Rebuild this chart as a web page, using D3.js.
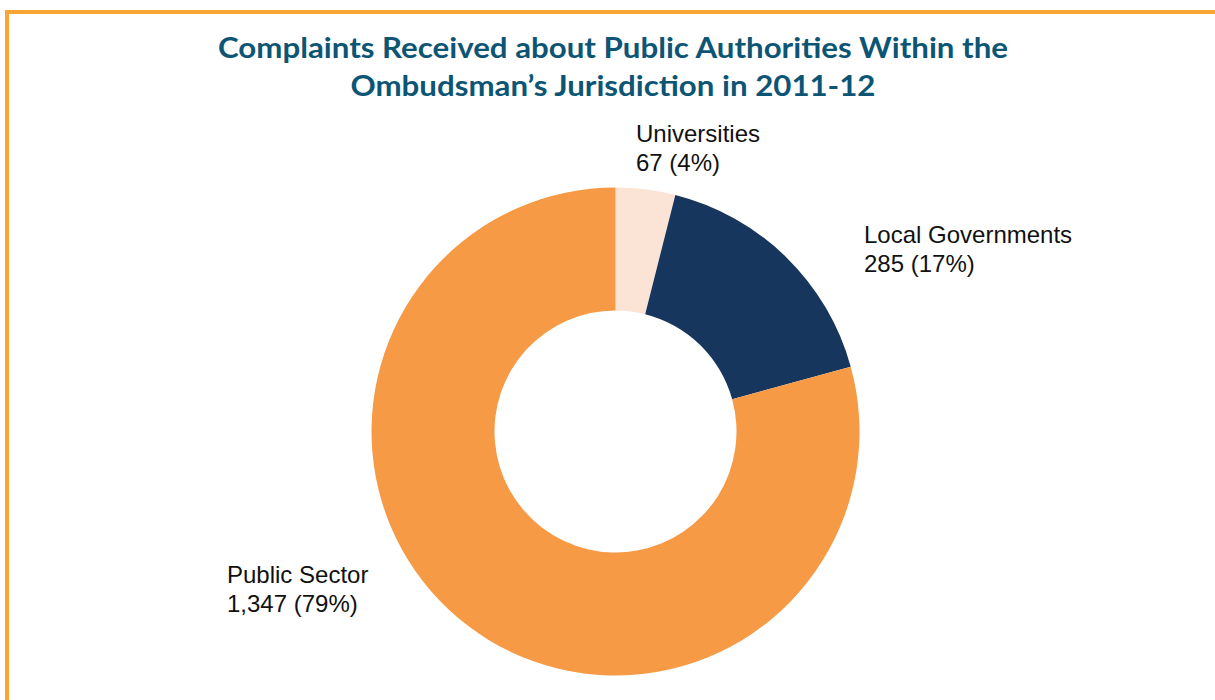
<!DOCTYPE html>
<html>
<head>
<meta charset="utf-8">
<script src="https://cdn.jsdelivr.net/npm/d3@7"></script>
<style>
  html, body { margin: 0; padding: 0; background: #ffffff; }
  svg { display: block; }
</style>
</head>
<body>
<svg id="chart" width="1215" height="700"></svg>
<script>
// ---- data ----
const categories = ["Universities", "Local Governments", "Public Sector"];
const values = [67, 285, 1347];
const percentLabels = ["4%", "17%", "79%"];
const titleLines = ["Complaints Received about Public Authorities Within the", "Ombudsman\u2019s Jurisdiction in 2011-12"];

// ---- styles / layout ----
const colors = ["#fbe4d5", "#17365d", "#f79a45"];
const W = 1215, H = 700;
const cx = 615.5, cy = 431.5, outerR = 244, innerR = 121;
const labelPos = [ {x: 636, y: 142}, {x: 864, y: 243}, {x: 227, y: 583} ];

const svg = d3.select("#chart");

// frame (extends beyond right/bottom edges)
svg.append("rect")
  .attr("x", 7).attr("y", 12)
  .attr("width", W + 20).attr("height", H + 20)
  .attr("fill", "none")
  .attr("stroke", "#f9a534")
  .attr("stroke-width", 4);

// title
const title = svg.append("g");
const titleY = [58, 96];
const titleW = [790, 525];
titleLines.forEach((t, i) => {
  title.append("text")
    .attr("x", 613).attr("y", titleY[i])
    .attr("text-anchor", "middle")
    .attr("font-family", "Lato, 'Open Sans', sans-serif")
    .attr("font-weight", 700)
    .attr("font-size", 29)
    .attr("fill", "#0d5574")
    .attr("textLength", titleW[i])
    .attr("lengthAdjust", "spacingAndGlyphs")
    .text(t);
});

// donut
const pie = d3.pie().sort(null).value(d => d)(values);
const arc = d3.arc().innerRadius(innerR).outerRadius(outerR);
svg.append("g")
  .attr("transform", `translate(${cx},${cy})`)
  .selectAll("path")
  .data(pie)
  .join("path")
  .attr("d", arc)
  .attr("fill", (d, i) => colors[i]);

// labels
const fmt = d3.format(",");
const lg = svg.append("g")
  .attr("font-family", "'Liberation Sans', Arial, sans-serif")
  .attr("font-size", 24)
  .attr("fill", "#111111");
categories.forEach((c, i) => {
  const t = lg.append("text").attr("x", labelPos[i].x).attr("y", labelPos[i].y);
  t.append("tspan").attr("x", labelPos[i].x).text(c);
  t.append("tspan").attr("x", labelPos[i].x).attr("dy", 28.5)
    .text(`${fmt(values[i])} (${percentLabels[i]})`);
});
</script>
</body>
</html>
